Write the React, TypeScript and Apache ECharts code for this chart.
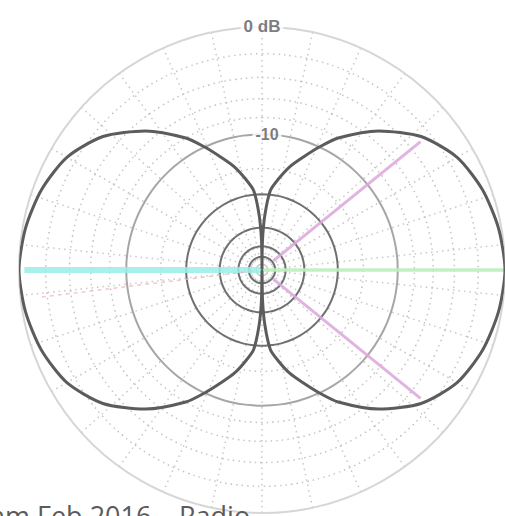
import React, { useEffect, useRef } from "react";
import * as echarts from "echarts";

// Pattern: gain (dB) vs. angle off the lobe peak (deg)
const offAxisDeg = [0, 10, 20, 30, 40, 50, 60, 65, 70, 75, 80, 84, 87, 89, 90];
const lobeGainDb = [0, -0.2, -0.6, -1.3, -2.7, -5.0, -8.0, -10.0, -12.1, -14.1, -16.7, -19.1, -25.5, -35.9, -100];

// grid rings (dB)
const dottedRingDb = [-2, -4, -6, -8, -15];
const mediumRingDb = [-10];
const darkRingDb = [-20, -30, -40, -50];

// labels on the dB scale
const dbLabelText = ["0 dB", "-10"];
const dbLabelLevel = [0, -10];

// -3 dB beam edge markers (azimuth, deg) and reference lines
const beamEdgeAz = [51, 129];
const beamEdgeDb = [-3, -3];
const leftRefAz = 270;
const rightRefAz = 90;
const faintRefAz = 263;

const caption = "am Feb 2016 – Radio";

// ARRL log-periodic scale: 0.89 per 2 dB
const arrl = (db: number) => Math.pow(0.89, -db / 2);

function buildLobe(): number[][] {
  const n = offAxisDeg.length;
  const pts: number[][] = [];
  for (let i = n - 1; i >= 0; i--) pts.push([arrl(lobeGainDb[i]), 90 - offAxisDeg[i]]);
  for (let i = 1; i < n; i++) pts.push([arrl(lobeGainDb[i]), 90 + offAxisDeg[i]]);
  for (let i = n - 2; i >= 0; i--) pts.push([arrl(lobeGainDb[i]), 270 - offAxisDeg[i]]);
  for (let i = 1; i < n; i++) pts.push([arrl(lobeGainDb[i]), 270 + offAxisDeg[i]]);
  return pts;
}

function ring(db: number): number[][] {
  const pts: number[][] = [];
  for (let a = 0; a <= 360; a += 4) pts.push([arrl(db), a]);
  return pts;
}

export default function App() {
  const ref = useRef<HTMLDivElement>(null);
  useEffect(() => {
    if (!ref.current) return;
    const chart = echarts.init(ref.current, undefined, { renderer: "svg" });
    const series: any[] = [];
    const ringSeries = (db: number, color: string, width: number, type: any) => ({
      type: "line",
      coordinateSystem: "polar",
      data: ring(db),
      smooth: true,
      symbol: "none",
      silent: true,
      z: 1,
      lineStyle: { color, width, type },
    });
    dottedRingDb.forEach((d) => series.push(ringSeries(d, "#c4c4c4", 1.5, [1.5, 4])));
    mediumRingDb.forEach((d) => series.push(ringSeries(d, "#a6a6a6", 2, "solid")));
    darkRingDb.forEach((d) => series.push(ringSeries(d, "#707070", 2, "solid")));

    const seg = (data: number[][], color: string, width: number, type: any = "solid", opacity = 1) => ({
      type: "line",
      coordinateSystem: "polar",
      data,
      symbol: "none",
      silent: true,
      z: 2,
      lineStyle: { color, width, type, opacity },
    });
    series.push(seg([[0, leftRefAz], [0.978, leftRefAz]], "#98eee6", 6, "solid", 0.85));
    series.push(seg([[0, rightRefAz], [1.0, rightRefAz]], "#bdeebd", 3.5, "solid", 0.9));
    series.push(seg([[0.04, faintRefAz], [0.93, faintRefAz]], "#f2b6c6", 1.5, [4, 4], 0.8));
    beamEdgeAz.forEach((az, i) => {
      series.push(seg([[0.06, az], [arrl(beamEdgeDb[i]), az]], "#dca6dc", 3, "solid", 0.85));
    });

    series.push({
      type: "line",
      coordinateSystem: "polar",
      data: buildLobe(),
      smooth: 0.25,
      symbol: "none",
      silent: true,
      z: 3,
      lineStyle: { color: "#5c5c5c", width: 3 },
    });

    series.push({
      type: "scatter",
      coordinateSystem: "polar",
      symbolSize: 1,
      itemStyle: { color: "rgba(0,0,0,0)" },
      z: 5,
      data: dbLabelLevel.map((d, i) => ({
        value: [arrl(d), 0],
        label: {
          show: true,
          position: "inside",
          formatter: dbLabelText[i],
          offset: i === 0 ? [0, -1] : [5, 0],
          fontSize: i === 0 ? 17 : 16,
          fontWeight: "bold",
          fontFamily: "Liberation Sans, Arial, sans-serif",
          color: "#5a5a5a",
          backgroundColor: "#ffffff",
          padding: [0, 3],
        },
      })),
    });

    chart.setOption({
      animation: false,
      backgroundColor: "#ffffff",
      polar: { center: [262, 270], radius: 243 },
      angleAxis: {
        type: "value",
        min: 0,
        max: 360,
        interval: 12,
        startAngle: 90,
        clockwise: true,
        axisLine: { show: true, lineStyle: { color: "#d6d6d6", width: 2 } },
        axisTick: { show: false },
        axisLabel: { show: false },
        splitLine: { show: true, lineStyle: { color: "#c8c8c8", width: 1.5, type: [1.5, 4] } },
      },
      radiusAxis: {
        type: "value",
        min: 0,
        max: 1,
        axisLine: { show: false },
        axisTick: { show: false },
        axisLabel: { show: false },
        splitLine: { show: false },
      },
      graphic: [
        {
          type: "text",
          left: -10,
          top: 502,
          z: 10,
          style: {
            text: caption,
            font: '27px "Open Sans", sans-serif',
            fill: "#5b5b5b",
          },
        },
      ],
      series,
    });
    return () => chart.dispose();
  }, []);
  return (
    <div
      ref={ref}
      style={{ position: "fixed", left: 0, top: 0, width: 505, height: 516, background: "#fff" }}
    />
  );
}
